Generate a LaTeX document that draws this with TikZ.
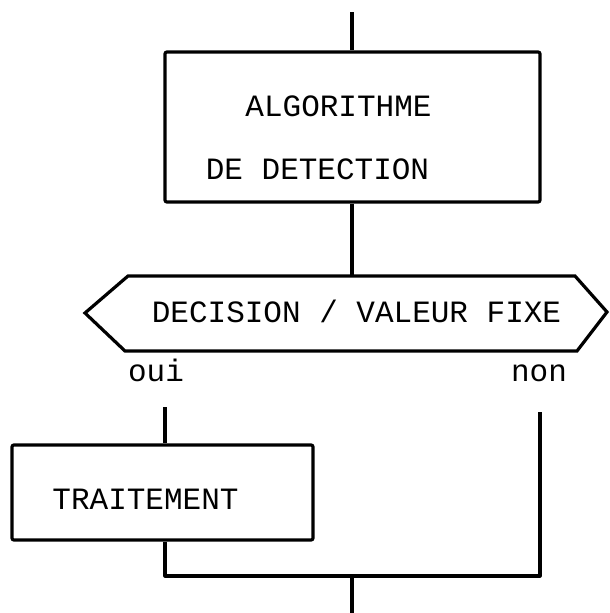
\documentclass[tikz,border=0pt]{standalone}
\usepackage{fontspec}
\setmonofont{Liberation Mono}
\begin{document}
\begin{tikzpicture}[x=1pt,y=-1pt,
  line/.style={line width=3.2pt},
  box/.style={draw,line width=3.2pt,rounded corners=2pt,inner sep=0pt},
  lbl/.style={font=\ttfamily\fontsize{31}{32}\selectfont,inner sep=0pt,anchor=base}]
\useasboundingbox (0,0) rectangle (610,613);
% boxes
\node[box,minimum width=375pt,minimum height=150pt] (algo) at (352.5,127) {};
\node[box,minimum width=301pt,minimum height=95pt] (trait) at (162.5,492.5) {};
% hexagon
\coordinate (hexT) at (352,276);
\draw[line,line join=miter] (128,276) -- (575,276) -- (607,312) -- (577,351) -- (125,351) -- (85,313) -- cycle;
% texts
\node[lbl] (t1) at (338.5,116) {ALGORITHME};
\node[lbl] (t2) at (317.5,179) {DE DETECTION};
\node[lbl] (dec) at (356.5,322) {DECISION / VALEUR FIXE};
\node[lbl] (oui) at (156,381) {oui};
\node[lbl] (non) at (539,381) {non};
\node[lbl] (t3) at (145.5,509) {TRAITEMENT};
% connectors
\coordinate (topin) at (352,12);
\coordinate (ouiT) at (165,407);
\coordinate (nonT) at (540,412);
\coordinate (join) at (352,576);
\coordinate (bot) at (352,613);
\draw[line] (topin) -- (algo.north -| topin);
\draw[line] (algo.south -| hexT) -- (hexT);
\draw[line] (ouiT) -- (trait.north -| ouiT);
\draw[line,line join=round] (trait.south -| ouiT) |- (join) -| (nonT);
\draw[line] (join) -- (bot);
\end{tikzpicture}
\end{document}
